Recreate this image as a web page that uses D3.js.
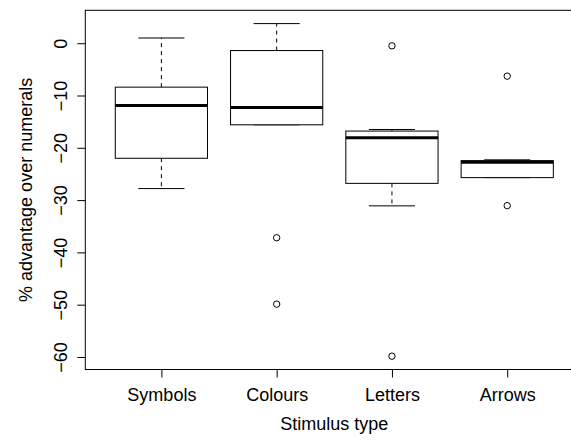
<!DOCTYPE html>
<html>
<head>
<meta charset="utf-8"/>
<title>Boxplot</title>
<script src="https://d3js.org/d3.v7.min.js"></script>
<style>
  body { margin: 0; background: #fff; }
  text { font-family: "Liberation Sans", Arial, Helvetica, sans-serif; fill: #000; }
</style>
</head>
<body>
<div id="chart"></div>
<script>
// stimulus types and their boxplot stats
var categories = ["Symbols", "Colours", "Letters", "Arrows"];
var whiskerLo = [-27.8, -15.6, -31.1, -25.7];
var q1        = [-22.0, -15.6, -26.8, -25.7];
var medians   = [-11.9, -12.3, -18.1, -22.75];
var q3        = [-8.4,  -1.4,  -16.8, -22.45];
var whiskerHi = [1.0,   3.75,  -16.5, -22.3];
var outliers  = [[], [-37.2, -49.9], [-0.5, -59.85], [-6.3, -31.05]];
var yTicks    = [0, -10, -20, -30, -40, -50, -60];

var W = 571, H = 441;
var margin = {top: 10.3, right: -12.3, bottom: 71.5, left: 85.3},
    width = W - margin.left - margin.right,
    height = H - margin.top - margin.bottom;

var svg = d3.select("#chart").append("svg")
    .attr("width", W)
    .attr("height", H)
  .append("g")
    .attr("transform", "translate(" + margin.left + "," + margin.top + ")");

// R style 4% padding on both axes
var allVals = whiskerLo.concat(whiskerHi, d3.merge(outliers));
var lo = d3.min(allVals), hi = d3.max(allVals), pad = (hi - lo) * 0.04;
var y = d3.scaleLinear().domain([lo - pad, hi + pad]).range([height, 0]);
var x = d3.scaleLinear().domain([0.5 - 0.16, 4.5 + 0.16]).range([0, width]);

var bw = 0.4, cw = 0.2;  // half box width, half cap width (data units)

// boxes
var g = svg.selectAll(".box").data(categories).enter().append("g").attr("class", "box");

// dashed whiskers
g.append("line")
  .attr("x1", (d, i) => x(i + 1)).attr("x2", (d, i) => x(i + 1))
  .attr("y1", (d, i) => y(q3[i])).attr("y2", (d, i) => y(whiskerHi[i]))
  .attr("stroke", "#000").attr("stroke-dasharray", "4,4");
g.append("line")
  .attr("x1", (d, i) => x(i + 1)).attr("x2", (d, i) => x(i + 1))
  .attr("y1", (d, i) => y(q1[i])).attr("y2", (d, i) => y(whiskerLo[i]))
  .attr("stroke", "#000").attr("stroke-dasharray", "4,4");

// caps
[whiskerHi, whiskerLo].forEach(function(arr) {
  g.append("line")
    .attr("x1", (d, i) => x(i + 1 - cw)).attr("x2", (d, i) => x(i + 1 + cw))
    .attr("y1", (d, i) => y(arr[i])).attr("y2", (d, i) => y(arr[i]))
    .attr("stroke", "#000");
});

g.append("rect")
  .attr("x", (d, i) => x(i + 1 - bw))
  .attr("width", (d, i) => x(i + 1 + bw) - x(i + 1 - bw))
  .attr("y", (d, i) => y(q3[i]))
  .attr("height", (d, i) => y(q1[i]) - y(q3[i]))
  .attr("fill", "#fff").attr("stroke", "#000");

g.append("line")
  .attr("x1", (d, i) => x(i + 1 - bw)).attr("x2", (d, i) => x(i + 1 + bw))
  .attr("y1", (d, i) => y(medians[i])).attr("y2", (d, i) => y(medians[i]))
  .attr("stroke", "#000").attr("stroke-width", 3);

// outliers
categories.forEach(function(c, i) {
  svg.selectAll(null).data(outliers[i]).enter().append("circle")
    .attr("cx", x(i + 1)).attr("cy", d => y(d)).attr("r", 3.2)
    .attr("fill", "none").attr("stroke", "#000");
});

// axes
var yAxis = svg.append("g")
  .call(d3.axisLeft(y).tickValues(yTicks).tickSize(8).tickFormat(d3.format("")));
yAxis.select(".domain").remove();
yAxis.selectAll(".tick line").attr("stroke", "#000");
yAxis.selectAll(".tick text")
  .attr("x", 0).attr("y", 0).attr("dy", 0)
  .attr("text-anchor", "middle")
  .attr("transform", "translate(-18.3,0) rotate(-90)")
  .style("font-size", "18px");

var xAxis = svg.append("g")
  .attr("transform", "translate(0," + height + ")")
  .call(d3.axisBottom(x).tickValues([1, 2, 3, 4]).tickSize(8)
        .tickFormat(d => categories[d - 1]));
xAxis.select(".domain").remove();
xAxis.selectAll(".tick line").attr("stroke", "#000");
xAxis.selectAll(".tick text").attr("y", 31).attr("dy", 0).style("font-size", "18px");

// plot frame
svg.append("rect")
  .attr("width", width).attr("height", height)
  .attr("fill", "none").attr("stroke", "#000");

// axis titles
svg.append("text")
  .attr("x", width / 2).attr("y", height + 60.5)
  .attr("text-anchor", "middle").style("font-size", "18px")
  .text("Stimulus type");

svg.append("text")
  .attr("transform", "translate(" + (31.7 - margin.left) + "," + (height / 2) + ") rotate(-90)")
  .attr("text-anchor", "middle").style("font-size", "18px")
  .text("% advantage over numerals");
</script>
</body>
</html>
